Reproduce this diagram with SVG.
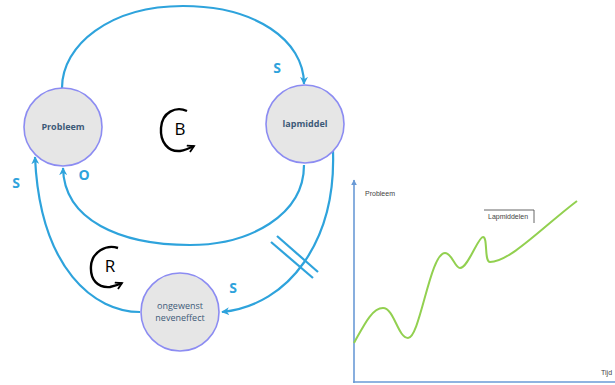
<svg xmlns="http://www.w3.org/2000/svg" width="615" height="385" viewBox="0 0 615 385">
<defs>
<marker id="arr" viewBox="0 0 10 10" refX="9" refY="5" markerWidth="8" markerHeight="8" orient="auto" markerUnits="userSpaceOnUse">
<path d="M0,0 L10,5 L0,10 L3,5 z" fill="#2ea3dc"/>
</marker>
<marker id="arrk" viewBox="0 0 10 10" refX="8" refY="5" markerWidth="9" markerHeight="9" orient="auto" markerUnits="userSpaceOnUse">
<path d="M1,1 L8,5 L1,9" fill="none" stroke="#000" stroke-width="2"/>
</marker>
<marker id="arrb" viewBox="0 0 10 10" refX="9" refY="5" markerWidth="6" markerHeight="6" orient="auto" markerUnits="userSpaceOnUse">
<path d="M0,0 L10,5 L0,10 z" fill="#6a9ad6"/>
</marker>
</defs>
<style>
.link{fill:none;stroke:#2ea3dc;stroke-width:2.2}
.node circle{fill:#e6e6e6;stroke:#8c8cf2;stroke-width:1.6}
.nt{font-family:"Open Sans","Liberation Sans",sans-serif;font-size:9px;font-weight:bold;fill:#3d5a78;text-anchor:middle}
.nt2{font-family:"Open Sans","Liberation Sans",sans-serif;font-size:9px;fill:#3d5a78;text-anchor:middle}
.pol{font-family:"Open Sans","Liberation Sans",sans-serif;font-size:14px;font-weight:bold;fill:#2ea3dc;text-anchor:middle}
.loop{fill:none;stroke:#000;stroke-width:2.4}
.lt{font-family:"Open Sans","Liberation Sans",sans-serif;font-size:17px;fill:#000;text-anchor:middle}
.ct{font-family:"Liberation Sans",sans-serif;font-size:7px;fill:#444}
</style>
<g id="connectors">
<path class="link" d="M62,88 C62,45 110,6 183,6 C255,6 304,40 304,84" marker-end="url(#arr)"/>
<path class="link" d="M304,165 C304,215 250,245 190,245 C120,245 64,220 63,168" marker-end="url(#arr)"/>
<path class="link" d="M140,312 C95,312 40,270 35,157" marker-end="url(#arr)"/>
<path class="link" d="M333,151 C336,240 290,305 222,312" marker-end="url(#arr)"/>
<line class="link" x1="271" y1="242" x2="313" y2="278" stroke-width="1.8"/>
<line class="link" x1="277" y1="236" x2="318" y2="272" stroke-width="1.8"/>
</g>
<g id="polarities">
<text class="pol" x="277" y="73">S</text>
<text class="pol" x="84" y="180">O</text>
<text class="pol" x="16" y="188">S</text>
<text class="pol" x="233" y="293">S</text>
</g>
<g id="node-probleem" class="node">
<circle cx="63" cy="127" r="39"/>
<text class="nt" x="63" y="130">Probleem</text>
</g>
<g id="node-lapmiddel" class="node">
<circle cx="305" cy="124" r="39"/>
<text class="nt" x="305" y="127">lapmiddel</text>
</g>
<g id="node-ongewenst" class="node">
<circle cx="180" cy="312" r="39"/>
<text class="nt2" x="180" y="309">ongewenst</text>
<text class="nt2" x="180" y="321">neveneffect</text>
</g>
<g id="loop-B">
<path class="loop" d="M187,111 C176,106 162,112 161,128 C160,142 168,152 180,151 C186,150 190,148 194,146" marker-end="url(#arrk)"/>
<text class="lt" x="180" y="135">B</text>
</g>
<g id="loop-R">
<path class="loop" d="M118,248 C106,244 92,252 91,266 C90,280 98,288 110,287 C115,286 118,285 122,283" marker-end="url(#arrk)"/>
<text class="lt" x="110" y="272">R</text>
</g>
<g id="chart">
<line x1="354" y1="383" x2="354" y2="180" stroke="#6a9ad6" stroke-width="1.6" marker-end="url(#arrb)"/>
<line x1="353" y1="382" x2="615" y2="382" stroke="#6a9ad6" stroke-width="1.6"/>
<text class="ct" x="365" y="196">Probleem</text>
<text class="ct" x="601" y="375">Tijd</text>
<path d="M484,210 L534,210 L534,223" fill="none" stroke="#555" stroke-width="0.9"/>
<text class="ct" x="488" y="219">Lapmiddelen</text>
<path d="M354,343 C364,325 372,308 383,308 C394,308 398,338 408,338 C420,338 430,253 445,253 C452,253 455,268 460,268 C468,268 478,237 483,237 C488,237 484,262 490,262 C510,262 545,225 577,201" fill="none" stroke="#92d050" stroke-width="2"/>
</g>
</svg>
